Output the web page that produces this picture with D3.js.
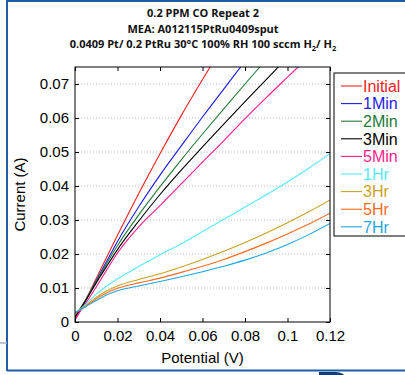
<!DOCTYPE html>
<html>
<head>
<meta charset="utf-8">
<script src="https://cdn.jsdelivr.net/npm/d3@7"></script>
<style>
  body { margin: 0; background: #fff; }
  svg { display: block; }
</style>
</head>
<body>
<div id="chart"></div>
<script>
// potential (V) sample points used for every run
const potential = [0, 0.005, 0.01, 0.015, 0.02, 0.03, 0.04, 0.05, 0.06, 0.07, 0.08, 0.09, 0.1, 0.11, 0.12];

// current (A), one array per run
const initial = [0.0005, 0.0065, 0.0128, 0.0192, 0.0255, 0.0378, 0.0495, 0.0607, 0.0713, 0.0815, 0.092, 0.102, 0.112, 0.122, 0.132];
const min1 = [0.001, 0.0062, 0.0122, 0.018, 0.0237, 0.0339, 0.0432, 0.0518, 0.0603, 0.0685, 0.0767, 0.085, 0.093, 0.101, 0.109];
const min2 = [0.0015, 0.0065, 0.012, 0.0173, 0.0225, 0.0315, 0.0398, 0.0477, 0.0553, 0.0627, 0.07, 0.0772, 0.0845, 0.0915, 0.0985];
const min3 = [0.0015, 0.0063, 0.0115, 0.0165, 0.0213, 0.0297, 0.0375, 0.0447, 0.0515, 0.0582, 0.0648, 0.0713, 0.0778, 0.0843, 0.0908];
const min5 = [0.0008, 0.0055, 0.0103, 0.0154, 0.0203, 0.028, 0.0342, 0.0406, 0.047, 0.0533, 0.0598, 0.066, 0.072, 0.078, 0.084];
const hr1 = [0.0026, 0.0052, 0.0082, 0.0106, 0.0127, 0.0163, 0.0198, 0.023, 0.0266, 0.0302, 0.0338, 0.0374, 0.0412, 0.0452, 0.0495];
const hr3 = [0.0026, 0.0048, 0.0073, 0.0092, 0.0106, 0.0125, 0.0142, 0.0162, 0.0184, 0.0208, 0.0234, 0.0262, 0.0292, 0.0324, 0.0359];
const hr5 = [0.0026, 0.0046, 0.0068, 0.0086, 0.0099, 0.0115, 0.0129, 0.0146, 0.0164, 0.0184, 0.0207, 0.0232, 0.0259, 0.0288, 0.032];
const hr7 = [0.0028, 0.0045, 0.0063, 0.008, 0.0092, 0.0106, 0.0119, 0.0133, 0.0148, 0.0164, 0.0182, 0.0203, 0.0228, 0.0257, 0.029];

const seriesNames = ["Initial", "1Min", "2Min", "3Min", "5Min", "1Hr", "3Hr", "5Hr", "7Hr"];
const seriesColors = ["#f02020", "#1a1af0", "#237a35", "#000000", "#ff1a8c", "#55ecfa", "#c9a21f", "#ff6a1f", "#1fa6e6"];
const seriesValues = [initial, min1, min2, min3, min5, hr1, hr3, hr5, hr7];

const xTicks = [0, 0.02, 0.04, 0.06, 0.08, 0.1, 0.12];
const yTicks = [0, 0.01, 0.02, 0.03, 0.04, 0.05, 0.06, 0.07];

const titleLines = ["0.2 PPM CO Repeat 2", "MEA: A012115PtRu0409sput"];

const width = 405, height = 375;
const margin = {top: 67, right: 75, bottom: 53, left: 75};
const innerW = width - margin.left - margin.right;
const innerH = height - margin.top - margin.bottom;

const svg = d3.select("#chart").append("svg")
  .attr("width", width)
  .attr("height", height);

// slide frame bits
const frameBlue = "#1f5ea6";
svg.append("line").attr("x1", 7).attr("x2", width).attr("y1", 1).attr("y2", 1)
  .attr("stroke", frameBlue).attr("stroke-width", 2);
svg.append("line").attr("x1", 7).attr("x2", 7).attr("y1", 0).attr("y2", 371)
  .attr("stroke", frameBlue).attr("stroke-width", 2);
svg.append("line").attr("x1", 7).attr("x2", width).attr("y1", 370.5).attr("y2", 370.5)
  .attr("stroke", frameBlue).attr("stroke-width", 2);
svg.append("line").attr("x1", 0).attr("x2", 7).attr("y1", 343).attr("y2", 343)
  .attr("stroke", "#9fb4cc").attr("stroke-width", 1.5);
svg.append("path")
  .attr("d", "M319,372 L336,372 Q343,373 344,375 L319,375 Z")
  .attr("fill", "#123f7a");

// title
const title = svg.append("g")
  .attr("font-family", "'Open Sans', sans-serif")
  .attr("font-weight", "bold")
  .attr("font-size", 11)
  .attr("text-anchor", "middle")
  .attr("fill", "#111");
titleLines.forEach((t, i) => {
  title.append("text").attr("x", 203).attr("y", 17 + i * 15.5).text(t);
});
const t3 = title.append("text").attr("x", 203).attr("y", 48);
t3.append("tspan").text("0.0409 Pt/ 0.2 PtRu 30°C 100% RH 100 sccm H");
t3.append("tspan").attr("font-size", 7.5).attr("dy", 3).text("2");
t3.append("tspan").attr("dy", -3).text("/ H");
t3.append("tspan").attr("font-size", 7.5).attr("dy", 3).text("2");

const xScale = d3.scaleLinear().domain([0, 0.12]).range([0, innerW]);
const yScale = d3.scaleLinear().domain([0, 0.075]).range([innerH, 0]);

const plot = svg.append("g")
  .attr("transform", `translate(${margin.left},${margin.top})`);

plot.append("defs").append("clipPath").attr("id", "clip")
  .append("rect").attr("width", innerW).attr("height", innerH);

// dotted grid (horizontal only)
plot.append("g")
  .selectAll("line")
  .data(yTicks.filter(d => d > 0))
  .join("line")
    .attr("x1", 0).attr("x2", innerW)
    .attr("y1", d => yScale(d)).attr("y2", d => yScale(d))
    .attr("stroke", "#bdbdbd")
    .attr("stroke-dasharray", "1,2");

// curves
const line = d3.line()
  .x((d, i) => xScale(potential[i]))
  .y(d => yScale(d))
  .curve(d3.curveMonotoneX);

plot.append("g").attr("clip-path", "url(#clip)")
  .selectAll("path")
  .data(seriesValues)
  .join("path")
    .attr("d", d => line(d))
    .attr("fill", "none")
    .attr("stroke", (d, i) => seriesColors[i])
    .attr("stroke-width", 1.1);

// axes, box style
const fmt = d => d === 0 ? "0" : String(+d.toFixed(2));
const axisStyle = g => {
  g.select(".domain").remove();
  g.selectAll("line").attr("stroke", "#000");
  g.selectAll("text")
    .attr("font-family", "'Liberation Sans', Arial, sans-serif")
    .attr("font-size", 15)
    .attr("fill", "#000");
};

plot.append("g")
  .attr("transform", `translate(0,${innerH})`)
  .call(d3.axisBottom(xScale).tickValues(xTicks).tickFormat(fmt).tickSize(-4).tickPadding(8))
  .call(axisStyle);
plot.append("g")
  .call(d3.axisTop(xScale).tickValues(xTicks).tickFormat("").tickSize(-4))
  .call(axisStyle);
plot.append("g")
  .call(d3.axisLeft(yScale).tickValues(yTicks).tickFormat(fmt).tickSize(-4).tickPadding(6))
  .call(axisStyle);
plot.append("g")
  .attr("transform", `translate(${innerW},0)`)
  .call(d3.axisRight(yScale).tickValues(yTicks).tickFormat("").tickSize(-4))
  .call(axisStyle);

plot.append("rect")
  .attr("width", innerW).attr("height", innerH)
  .attr("fill", "none").attr("stroke", "#000").attr("stroke-width", 1);

// axis titles
svg.append("text")
  .attr("x", margin.left + innerW / 2)
  .attr("y", 363)
  .attr("text-anchor", "middle")
  .attr("font-family", "'Liberation Sans', Arial, sans-serif")
  .attr("font-size", 15)
  .text("Potential (V)");
svg.append("text")
  .attr("transform", `translate(25,${margin.top + innerH / 2}) rotate(-90)`)
  .attr("text-anchor", "middle")
  .attr("font-family", "'Liberation Sans', Arial, sans-serif")
  .attr("font-size", 15)
  .text("Current (A)");

// legend
const legend = svg.append("g").attr("transform", "translate(334,73)");
legend.append("rect")
  .attr("width", 80).attr("height", 163)
  .attr("fill", "#fff").attr("stroke", "#000").attr("stroke-width", 1);
const rows = legend.selectAll("g.row")
  .data(seriesNames)
  .join("g")
    .attr("class", "row")
    .attr("transform", (d, i) => `translate(0,${13 + i * 17.6})`);
rows.append("line")
  .attr("x1", 7).attr("x2", 28)
  .attr("stroke", (d, i) => seriesColors[i])
  .attr("stroke-width", 1.1);
rows.append("text")
  .attr("x", 29).attr("y", 5.8)
  .attr("font-family", "'Liberation Sans', Arial, sans-serif")
  .attr("font-size", 16)
  .attr("fill", (d, i) => seriesColors[i])
  .text(d => d);
</script>
</body>
</html>
